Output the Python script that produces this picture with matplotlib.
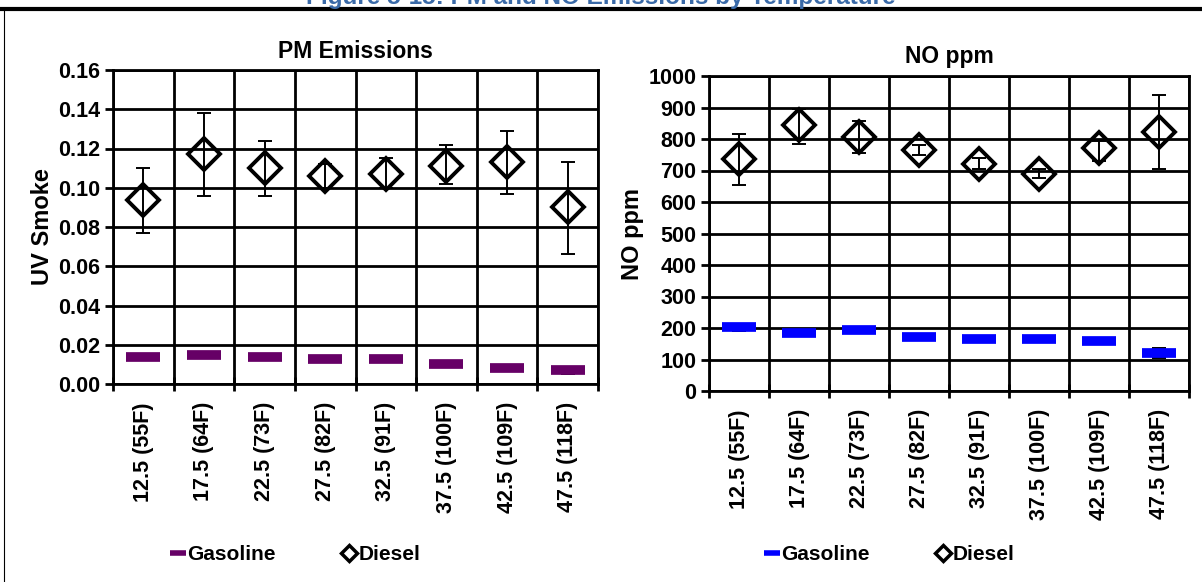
import matplotlib.pyplot as plt
import numpy as np
from matplotlib.lines import Line2D

plt.rcParams['font.family'] = ['Liberation Sans', 'DejaVu Sans']
plt.rcParams['font.weight'] = 'bold'

temps = ['12.5 (55F)', '17.5 (64F)', '22.5 (73F)', '27.5 (82F)',
         '32.5 (91F)', '37.5 (100F)', '42.5 (109F)', '47.5 (118F)']

# PM (UV smoke)
pm_diesel = [0.094, 0.117, 0.110, 0.106, 0.107, 0.111, 0.113, 0.090]
pm_diesel_lo = [0.077, 0.096, 0.096, 0.100, 0.100, 0.102, 0.097, 0.066]
pm_diesel_hi = [0.110, 0.138, 0.124, 0.112, 0.115, 0.122, 0.129, 0.113]
pm_gas = [0.0140, 0.0147, 0.0140, 0.0125, 0.0125, 0.0103, 0.0081, 0.0071]
pm_gas_lo = [0.0135, 0.0142, 0.0135, 0.0120, 0.0120, 0.0098, 0.0076, 0.0050]
pm_gas_hi = [0.0145, 0.0152, 0.0145, 0.0130, 0.0130, 0.0108, 0.0086, 0.0080]

# NO ppm
no_diesel = [735, 845, 805, 765, 722, 690, 770, 822]
no_diesel_lo = [655, 785, 755, 750, 705, 675, 730, 705]
no_diesel_hi = [815, 895, 858, 780, 740, 705, 795, 940]
no_gas = [203, 185, 193, 170, 165, 165, 160, 122]
no_gas_lo = [190, 180, 183, 166, 161, 161, 156, 105]
no_gas_hi = [210, 190, 200, 174, 169, 169, 164, 137]

fig = plt.figure(figsize=(12.02, 5.82), dpi=100)

# page title cut off at the top, rule and frame
fig.text(0.5, 1 - 4 / 582, 'Figure 5-15: PM and NO Emissions by Temperature',
         ha='center', va='baseline', fontsize=17.5, color='#3a6aa8',
         fontweight='bold')
fig.add_artist(Line2D([0, 1], [1 - 9 / 582, 1 - 9 / 582], color='black', lw=3,
                      transform=fig.transFigure))
fig.add_artist(Line2D([4 / 1202, 4 / 1202], [0, 1 - 9 / 582], color='black', lw=0.8,
                      transform=fig.transFigure))


def draw_panel(ax, diesel, dlo, dhi, gas, glo, ghi, gas_color, ylim, yticks, yfmt,
               title, ylabel):
    x = np.arange(len(temps))
    d = np.array(diesel)
    g = np.array(gas)
    ax.errorbar(x, d, yerr=[d - np.array(dlo), np.array(dhi) - d], fmt='none',
                ecolor='black', elinewidth=1.4, capsize=5, capthick=1.4, zorder=3)
    ax.errorbar(x, g, yerr=[g - np.array(glo), np.array(ghi) - g], fmt='none',
                ecolor='black', elinewidth=1.4, capsize=5, capthick=1.4, zorder=3)
    ax.plot(x, d, linestyle='none', marker='D', markersize=16.5, markerfacecolor='none',
            markeredgecolor='black', markeredgewidth=2.8, zorder=4)
    ax.plot(x, g, linestyle='none', marker='_', markersize=24, markeredgewidth=7,
            color=gas_color, zorder=4)

    ax.set_xlim(-0.5, len(temps) - 0.5)
    ax.set_ylim(*ylim)
    ax.set_xticks(x)
    ax.set_xticklabels(temps, rotation=90, fontsize=15.5, fontweight='bold')
    ax.set_xticks(np.arange(len(temps) + 1) - 0.5, minor=True)
    ax.tick_params(axis='x', which='major', length=0, pad=13)
    ax.tick_params(axis='x', which='minor', length=10, width=2, direction='inout')
    ax.set_yticks(yticks)
    ax.set_yticklabels([yfmt.format(v) for v in yticks], fontsize=15.5, fontweight='bold')
    ax.tick_params(axis='y', length=6, width=2, direction='out', pad=3)
    ax.grid(True, which='major', axis='y', color='black', lw=2)
    ax.grid(True, which='minor', axis='x', color='black', lw=2)
    ax.set_axisbelow(True)
    for s in ax.spines.values():
        s.set_linewidth(2)
    ax.set_title(title, fontsize=16.5, fontweight='bold', pad=9)
    ax.set_ylabel(ylabel, fontsize=17, fontweight='bold', labelpad=3)


ax1 = fig.add_axes([113 / 1202, 1 - 384 / 582, 485 / 1202, 314 / 582])
draw_panel(ax1, pm_diesel, pm_diesel_lo, pm_diesel_hi, pm_gas, pm_gas_lo, pm_gas_hi,
           '#660066', (0, 0.16), np.arange(0, 0.161, 0.02), '{:.2f}',
           'PM Emissions', 'UV Smoke')

ax2 = fig.add_axes([709 / 1202, 1 - 391 / 582, 480 / 1202, 315 / 582])
draw_panel(ax2, no_diesel, no_diesel_lo, no_diesel_hi, no_gas, no_gas_lo, no_gas_hi,
           '#0000ff', (0, 1000), np.arange(0, 1001, 100), '{:.0f}',
           'NO ppm', 'NO ppm')


def add_legend(ax, gas_color, cx):
    handles = [Line2D([], [], linestyle='none', marker='_', markersize=12,
                      markeredgewidth=4, color=gas_color),
               Line2D([], [], linestyle='none', marker='D', markersize=8,
                      markerfacecolor='none', markeredgecolor='black',
                      markeredgewidth=2.5)]
    fig.legend(handles, ['Gasoline', 'Diesel'], loc='center',
               bbox_to_anchor=(cx, 1 - 555 / 582), ncol=2, frameon=False,
               prop={'size': 15, 'weight': 'bold'}, handlelength=0.6,
               handletextpad=0.15, columnspacing=3.2)


add_legend(ax1, '#660066', 296 / 1202)
add_legend(ax2, '#0000ff', 890 / 1202)

fig.savefig('out.png', dpi=100)
